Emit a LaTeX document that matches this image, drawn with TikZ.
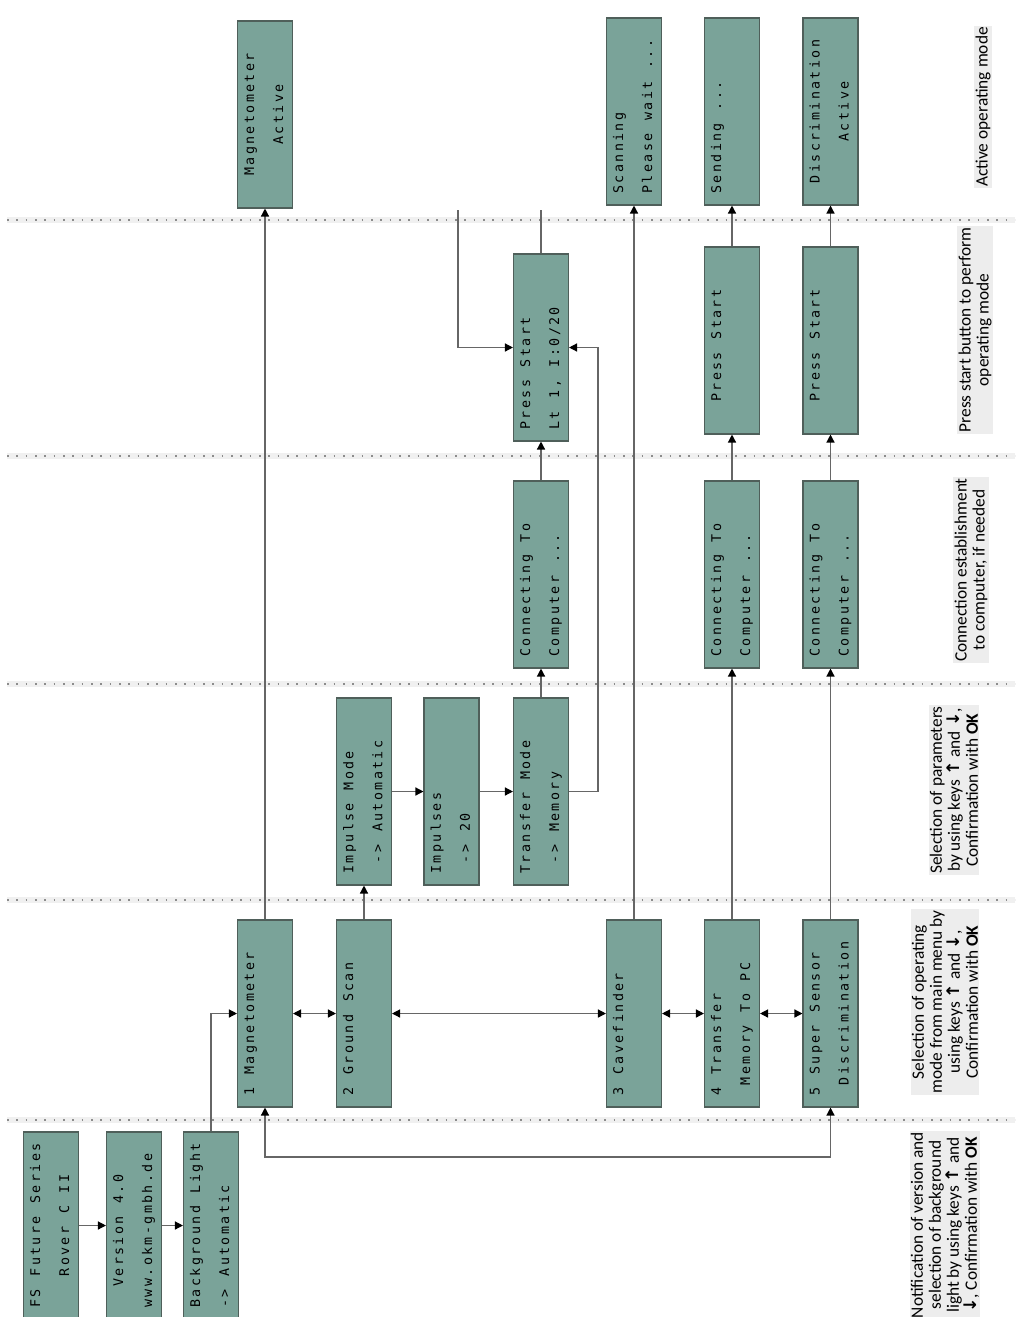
\documentclass[tikz,border=0pt]{standalone}
\usepackage{fontspec}
\usepackage{graphicx}
\setmainfont{Carlito}
\newfontfamily\lcdfont{DejaVu Sans Mono}
\newfontfamily\arwfont{DejaVu Sans}
\usetikzlibrary{arrows.meta}
\definecolor{boxfill}{HTML}{7AA399}
\definecolor{boxline}{HTML}{4F5F5A}
\definecolor{linec}{HTML}{666666}
\makeatletter
\newlength\lcdw \setlength\lcdw{7.8pt}
\newcommand\lcdline[1]{\hbox to 16\lcdw{\vrule height 7pt depth 2pt width 0pt\@tfor\lcdc:=#1\do{\hbox to \lcdw{\hss\lcdc\hss}}\hss}}
\makeatother
\newcommand\lcdtext[2]{\rotatebox{90}{\lcdfont\fontsize{10}{11}\selectfont\vbox{\baselineskip=21.75pt\lineskiplimit=-50pt\lcdline{#1}\lcdline{#2}}}}
\newcommand\kup{{\arwfont\bfseries ↑}}
\newcommand\kdown{{\arwfont\bfseries ↓}}
\tikzset{
  lcd/.style={draw=boxline, line width=0.8pt, fill=boxfill, minimum width=41.25pt, minimum height=140.25pt, inner sep=0pt},
  arr/.style={draw=linec, line width=1pt, -{Triangle[length=6pt,width=6pt,color=black]}},
  darr/.style={draw=linec, line width=1pt, {Triangle[length=6pt,width=6pt,color=black]}-{Triangle[length=6pt,width=6pt,color=black]}},
  plainline/.style={draw=linec, line width=1pt},
  sepband/.style={draw=black!6, line width=5pt},
  sepdots/.style={draw=black!45, line width=1.2pt, dash pattern=on 1.2pt off 5.8pt},
  legend/.style={rotate=90, align=center, fill=black!7, inner sep=1pt, font=\fontsize{13}{13.5}\selectfont}
}
\begin{document}
\begin{tikzpicture}[x=0.75pt,y=-0.75pt]
\fill[white] (0,0) rectangle (1015,1317);
\useasboundingbox (0,0) rectangle (1015,1317);
% separators
\foreach \yy in {220,456,684,900,1120}{
  \draw[sepband] (7,\yy) -- (1015,\yy);
  \draw[sepdots] (7,\yy) -- (1015,\yy);
}
% band A
\node[lcd] (fs)  at (51,1225.5)  {\lcdtext{FS~Future~Series}{~~~Rover~C~II}};
\node[lcd] (ver) at (134,1225.5) {\lcdtext{~~Version~4.0}{www.okm-gmbh.de}};
\node[lcd] (bg)  at (211,1225.5) {\lcdtext{Background~Light}{->~Automatic}};
% band B
\node[lcd] (mag)  at (265,1013.5) {\lcdtext{1~Magnetometer}{}};
\node[lcd] (gs)   at (364,1013.5) {\lcdtext{2~Ground~Scan}{}};
\node[lcd] (cave) at (634,1013.5) {\lcdtext{3~Cavefinder}{}};
\node[lcd] (tr)   at (732,1013.5) {\lcdtext{4~Transfer}{~Memory~To~PC}};
\node[lcd] (ss)   at (830.5,1013.5) {\lcdtext{5~Super~Sensor}{~Discrimination}};
% band C
\node[lcd] (imp)  at (364,791.5) {\lcdtext{Impulse~Mode}{~->~Automatic}};
\node[lcd] (imps) at (451.5,791.5) {\lcdtext{Impulses}{~->~20}};
\node[lcd] (tm)   at (541,791.5) {\lcdtext{Transfer~Mode}{~->~Memory}};
% band D
\node[lcd] (con1) at (541,574.5) {\lcdtext{Connecting~To}{Computer~...}};
\node[lcd] (con2) at (732,574.5) {\lcdtext{Connecting~To}{Computer~...}};
\node[lcd] (con3) at (830.5,574.5) {\lcdtext{Connecting~To}{Computer~...}};
% band E
\node[lcd] (ps1) at (541,347.5) {\lcdtext{Press~Start}{Lt~1,~I:0/20}};
\node[lcd] (ps2) at (732,340.5) {\lcdtext{~~Press~Start}{}};
\node[lcd] (ps3) at (830.5,340.5) {\lcdtext{~~Press~Start}{}};
% band F
\node[lcd] (magact) at (265,114.5) {\lcdtext{~~Magnetometer}{~~~~~Active}};
\node[lcd] (scan)   at (634,111.5) {\lcdtext{Scanning}{Please~wait~...}};
\node[lcd] (send)   at (732,111.5) {\lcdtext{Sending~...}{}};
\node[lcd] (disc)   at (830.5,111.5) {\lcdtext{~Discrimination}{~~~~~Active}};
% connectors
\draw[arr] (fs.east) -- (ver.west);
\draw[arr] (ver.east) -- (bg.west);
\draw[arr] (bg.north) |- (mag.west);
\coordinate (lb) at (500,1157);
\draw[darr] (mag.south) -- (mag.south |- lb) -- (ss.south |- lb) -- (ss.south);
\draw[darr] (mag.east) -- (gs.west);
\draw[darr] (gs.east) -- (cave.west);
\draw[darr] (cave.east) -- (tr.west);
\draw[darr] (tr.east) -- (ss.west);
\draw[arr] (mag.north) -- (magact.south);
\draw[arr] (gs.north) -- (imp.south);
\draw[arr] (imp.east) -- (imps.west);
\draw[arr] (imps.east) -- (tm.west);
\draw[arr] (tm.north) -- (con1.south);
\draw[arr] (con1.north) -- (ps1.south);
\coordinate (rx) at (598,0);
\draw[arr] (tm.east) -- (tm.east -| rx) -- (ps1.east -| rx) -- (ps1.east);
\coordinate (t1) at (541,210);
\draw[plainline] (ps1.north) -- (t1);
\coordinate (t2) at (458,210);
\draw[arr] (t2) |- (ps1.west);
\draw[arr] (cave.north) -- (scan.south);
\draw[arr] (tr.north) -- (con2.south);
\draw[arr] (con2.north) -- (ps2.south);
\draw[arr] (ps2.north) -- (send.south);
\draw[arr] (ss.north) -- (con3.south);
\draw[arr] (con3.north) -- (ps3.south);
\draw[arr] (ps3.north) -- (disc.south);
% legends
\node[legend] (lgF) at (983,107) {Active operating mode};
\node[legend] (lgE) at (975,330) {Press start button to perform\\operating mode};
\node[legend] (lgD) at (971,570) {Connection establishment\\to computer, if needed};
\node[legend] (lgC) at (954,790) {Selection of parameters\\by using keys \kup{} and \kdown,\\Confirmation with \textbf{OK}};
\node[legend] (lgB) at (945,1002) {Selection of operating\\mode from main menu by\\using keys \kup{} and \kdown,\\Confirmation with \textbf{OK}};
\node[legend] (lgA) at (945,1225) {Notification of version and\\selection of background\\light by using keys \kup{} and\\\kdown, Confirmation with \textbf{OK}};
\end{tikzpicture}
\end{document}
